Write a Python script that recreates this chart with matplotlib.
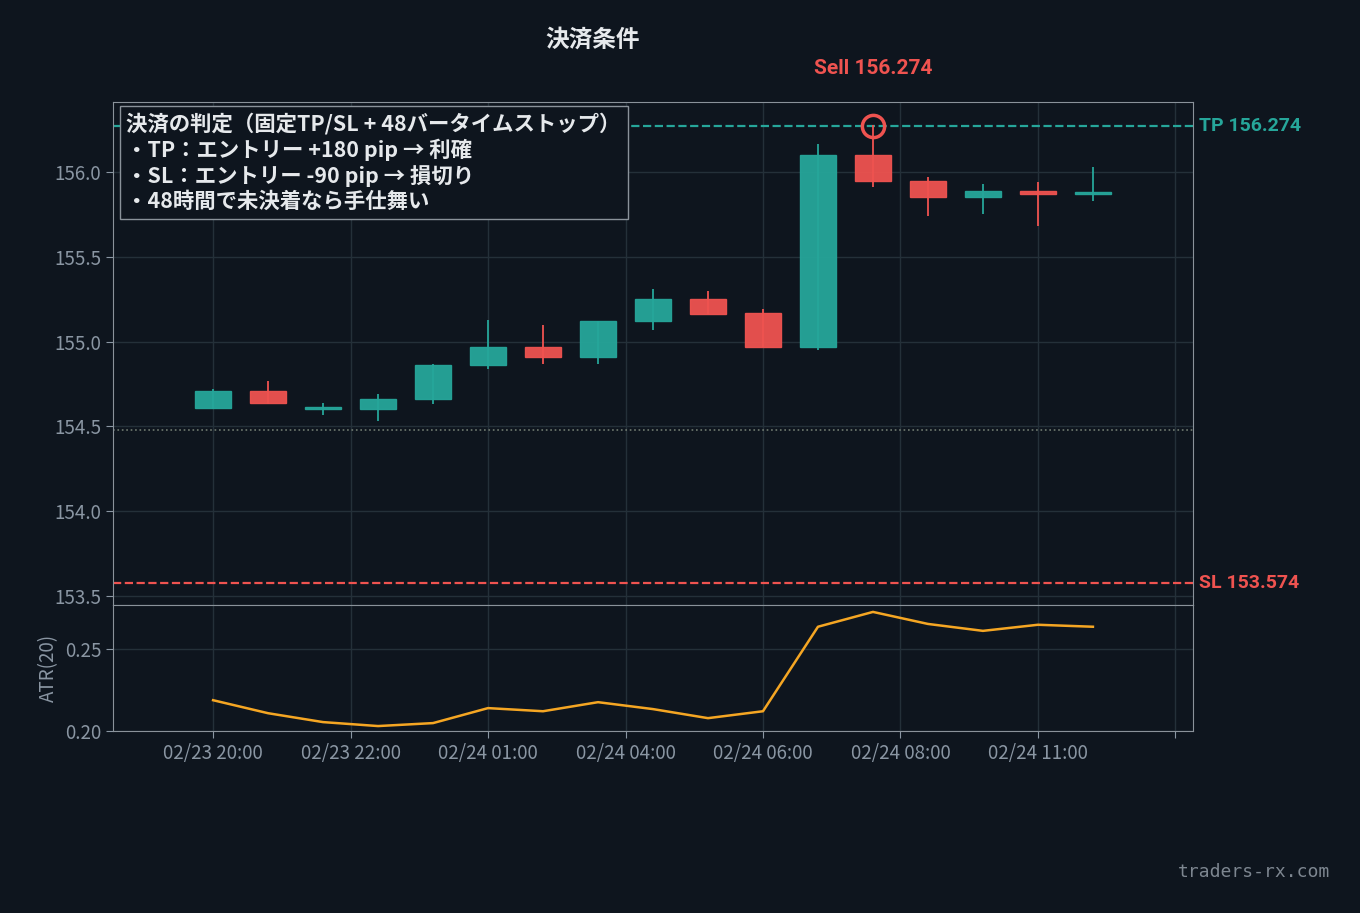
import matplotlib
matplotlib.use("Agg")
import matplotlib.pyplot as plt
from matplotlib.patches import Rectangle

plt.rcParams['font.family'] = ['Noto Sans CJK JP', 'DejaVu Sans']

opens  = [154.61,154.71,154.60,154.60,154.66,154.86,154.97,154.91,155.12,155.25,155.17,154.97,156.10,155.95,155.85,155.89,155.87]
closes = [154.71,154.64,154.61,154.66,154.86,154.97,154.91,155.12,155.25,155.16,154.97,156.10,155.95,155.85,155.89,155.87,155.88]
highs  = [154.72,154.77,154.64,154.69,154.87,155.13,155.10,155.12,155.31,155.30,155.19,156.165,156.28,155.97,155.93,155.94,156.03]
lows   = [154.60,154.63,154.57,154.53,154.63,154.84,154.87,154.87,155.07,155.16,154.97,154.95,155.91,155.74,155.75,155.68,155.83]
atr    = [0.2187,0.2108,0.2054,0.2030,0.2048,0.2139,0.2120,0.2175,0.2133,0.2078,0.2120,0.2633,0.2723,0.2650,0.2608,0.2645,0.2633]
tick_pos = [0,2.5,5,7.5,10,12.5,15,17.5]
tick_labels = ["02/23 20:00","02/23 22:00","02/24 01:00","02/24 04:00","02/24 06:00","02/24 08:00","02/24 11:00",""]
tp, sl, entry = 156.274, 153.574, 154.479
sell_idx = 12

BG = '#0e151e'; GREEN = '#26a69a'; RED = '#ef5350'; GRID = '#243039'; TXT = '#8a96a3'; SPINE = '#8a929a'

fig = plt.figure(figsize=(13.6, 9.13), dpi=100, facecolor=BG)
ax = fig.add_axes([113/1360, 1-605/913, 1080/1360, 503/913])
ax2 = fig.add_axes([113/1360, 1-731/913, 1080/1360, 126/913], sharex=ax)
for a in (ax, ax2):
    a.set_facecolor(BG)
    for s in a.spines.values():
        s.set_color(SPINE)
    a.grid(True, color=GRID, lw=1)
    a.tick_params(colors=TXT, labelsize=13.5, length=5)
    a.set_axisbelow(True)

for i,(o,c,h,l) in enumerate(zip(opens,closes,highs,lows)):
    col = GREEN if c >= o else RED
    ax.vlines(i, l, h, color=col, lw=1.3, zorder=2)
    ax.add_patch(Rectangle((i-0.33, min(o,c)), 0.66, max(abs(c-o), 0.012), facecolor=col, edgecolor=col, alpha=0.95, zorder=3))

ax.axhline(tp, color=GREEN, ls='--', lw=1.6, zorder=1)
ax.axhline(sl, color=RED, ls='--', lw=1.6, zorder=1)
ax.axhline(entry, color='#707a70', ls=':', lw=1.2, zorder=1)
ax.text(1.006, tp, f"TP {tp:.3f}", transform=ax.get_yaxis_transform(), color=GREEN, fontsize=14, fontweight='bold', va='center', family=['Roboto','DejaVu Sans'])
ax.text(1.006, sl, f"SL {sl:.3f}", transform=ax.get_yaxis_transform(), color=RED, fontsize=14, fontweight='bold', va='center', family=['Roboto','DejaVu Sans'])
ax.plot([sell_idx], [tp], 'o', ms=16, mfc='none', mec=RED, mew=2.5, zorder=5)
ax.text(sell_idx, 156.61, f"Sell {tp:.3f}", color=RED, fontsize=15, fontweight='bold', ha='center', va='center', family=['Roboto','DejaVu Sans'])

ax.set_xlim(-1.82, 17.82)
ax.set_ylim(153.447, 156.413)
ax.set_yticks([153.5,154.0,154.5,155.0,155.5,156.0])
ax.set_yticklabels(["153.5","154.0","154.5","155.0","155.5","156.0"])
plt.setp(ax.get_xticklabels(), visible=False)
ax.tick_params(axis='x', length=0)

txt = "決済の判定（固定TP/SL + 48バータイムストップ）\n・TP：エントリー +180 pip → 利確\n・SL：エントリー -90 pip → 損切り\n・48時間で未決着なら手仕舞い"
ax.text(0.0125, 0.978, txt, transform=ax.transAxes, fontsize=15.4, fontweight='bold', color='#e6e9ec', va='top', ha='left', linespacing=1.22,
        bbox=dict(boxstyle='square,pad=0.32', facecolor=BG, edgecolor=SPINE, lw=1), zorder=6)

ax2.plot(range(len(atr)), atr, color='#f5a623', lw=1.8)
ax2.set_ylim(0.20, 0.2765)
ax2.set_yticks([0.20,0.25])
ax2.set_yticklabels(["0.20","0.25"])
ax2.set_ylabel("ATR(20)", color=TXT, fontsize=13.5)
ax2.set_xticks(tick_pos)
ax2.set_xticklabels(tick_labels)

fig.text(593/1360, 1-40/913, "決済条件", color='#e6e9ec', fontsize=17, fontweight='bold', ha='center', va='center')
fig.text(1330/1360, 1-872/913, "traders-rx.com", color='#7d8690', fontsize=13, ha='right', va='center', family='DejaVu Sans Mono')

fig.savefig("out.png", dpi=100, facecolor=BG)
